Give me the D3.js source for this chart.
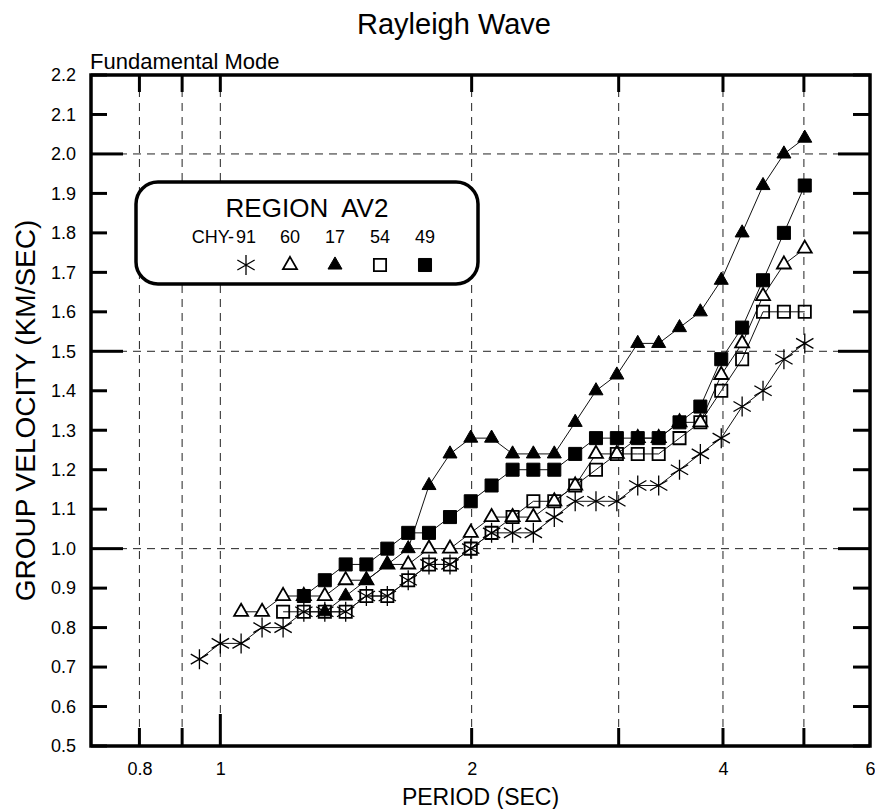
<!DOCTYPE html>
<html>
<head>
<meta charset="utf-8">
<script src="https://cdn.jsdelivr.net/npm/d3@7"></script>
<style>
  body { margin: 0; background: #fff; }
  text { font-family: Arial, "Liberation Sans", sans-serif; fill: #000; }
</style>
</head>
<body>
<svg id="chart"></svg>
<script>
// periods (sec), shared by all stations
const periods = [0.944, 1.0, 1.059, 1.122, 1.189, 1.259, 1.334, 1.413, 1.496, 1.585,
  1.679, 1.778, 1.884, 1.995, 2.113, 2.239, 2.371, 2.512, 2.661, 2.818,
  2.985, 3.162, 3.350, 3.548, 3.758, 3.981, 4.217, 4.467, 4.732, 5.012];

// group velocity (km/sec) per station, null = no point
const chy91 = [0.72, 0.76, 0.76, 0.80, 0.80, 0.84, 0.84, 0.84, 0.88, 0.88,
  0.92, 0.96, 0.96, 1.00, 1.04, 1.04, 1.04, 1.08, 1.12, 1.12,
  1.12, 1.16, 1.16, 1.20, 1.24, 1.28, 1.36, 1.40, 1.48, 1.52];
const chy60 = [null, null, 0.84, 0.84, 0.88, 0.88, 0.88, 0.92, 0.92, 0.96,
  0.96, 1.00, 1.00, 1.04, 1.08, 1.08, 1.08, 1.12, 1.16, 1.24,
  1.24, 1.28, 1.28, 1.32, 1.32, 1.44, 1.52, 1.64, 1.72, 1.76];
const chy17 = [null, null, null, null, null, null, 0.84, 0.88, 0.92, 0.96,
  1.00, 1.16, 1.24, 1.28, 1.28, 1.24, 1.24, 1.24, 1.32, 1.40,
  1.44, 1.52, 1.52, 1.56, 1.60, 1.68, 1.80, 1.92, 2.00, 2.04];
const chy54 = [null, null, null, null, 0.84, 0.84, 0.84, 0.84, 0.88, 0.88,
  0.92, 0.96, 0.96, 1.00, 1.04, 1.08, 1.12, 1.12, 1.16, 1.20,
  1.24, 1.24, 1.24, 1.28, 1.32, 1.40, 1.48, 1.60, 1.60, 1.60];
const chy49 = [null, null, null, null, null, 0.88, 0.92, 0.96, 0.96, 1.00,
  1.04, 1.04, 1.08, 1.12, 1.16, 1.20, 1.20, 1.20, 1.24, 1.28,
  1.28, 1.28, 1.28, 1.32, 1.36, 1.48, 1.56, 1.68, 1.80, 1.92];

const stations = ["91", "60", "17", "54", "49"];
const markers = ["asterisk", "triangleOpen", "triangle", "squareOpen", "square"];

const xTicks = [0.8, 0.9, 1, 2, 3, 4, 5];
const xLabels = [0.8, 1, 2, 4, 6];
const yTicks = d3.range(5, 23).map(d => d / 10);
const xGrid = [0.8, 0.9, 1, 2, 3, 4, 5];
const yGrid = [1.0, 1.5, 2.0];
const yMajor = [1.0, 1.5, 2.0];

const width = 875;
const height = 809;
const margin = { top: 75, right: 5, bottom: 63, left: 91 };

const svg = d3.select("#chart")
  .attr("width", width)
  .attr("height", height);

svg.append("rect").attr("width", width).attr("height", height).attr("fill", "#fff");

const x = d3.scaleLog().domain([0.7, 6]).range([margin.left, width - margin.right]);
const y = d3.scaleLinear().domain([0.5, 2.2]).range([height - margin.bottom, margin.top]);

const x0 = x.range()[0], x1 = x.range()[1];
const y0 = y.range()[0], y1 = y.range()[1];

// dashed grid
const grid = svg.append("g")
  .attr("stroke", "#222")
  .attr("stroke-width", 1)
  .attr("stroke-dasharray", "8,6");

grid.selectAll(".vx")
  .data(xGrid)
  .join("line")
  .attr("x1", d => x(d)).attr("x2", d => x(d))
  .attr("y1", y1).attr("y2", y0);

grid.selectAll(".hy")
  .data(yGrid)
  .join("line")
  .attr("x1", x0).attr("x2", x1)
  .attr("y1", d => y(d)).attr("y2", d => y(d));

// tick labels from d3 axes (tick lines drawn separately below)
const gBottom = svg.append("g")
  .attr("transform", `translate(0,${y0})`)
  .call(d3.axisBottom(x).tickValues(xLabels).tickFormat(d => String(d))
    .tickSize(0).tickPadding(16));

const gLeft = svg.append("g")
  .attr("transform", `translate(${x0},0)`)
  .call(d3.axisLeft(y).tickValues(yTicks).tickFormat(d3.format(".1f"))
    .tickSize(0).tickPadding(15));

[gBottom, gLeft].forEach(g => {
  g.select(".domain").remove();
  g.selectAll(".tick line").remove();
  g.selectAll(".tick text")
    .attr("font-size", 18)
    .attr("font-family", "Arial, 'Liberation Sans', sans-serif")
    .attr("fill", "#000");
});

// inward tick marks on all four sides
const ticks = svg.append("g").attr("stroke", "#000").attr("stroke-width", 3);

ticks.selectAll(".tb")
  .data(xTicks)
  .join("line")
  .attr("x1", d => x(d)).attr("x2", d => x(d))
  .attr("y1", y0).attr("y2", d => y0 - (d === 1 ? 32 : 18));

ticks.selectAll(".tt")
  .data(xTicks)
  .join("line")
  .attr("x1", d => x(d)).attr("x2", d => x(d))
  .attr("y1", y1).attr("y2", y1 + 17);

ticks.selectAll(".tl")
  .data(yTicks)
  .join("line")
  .attr("x1", x0).attr("x2", d => x0 + (yMajor.includes(d) ? 32 : 16))
  .attr("y1", d => y(d)).attr("y2", d => y(d));

ticks.selectAll(".tr")
  .data(yTicks)
  .join("line")
  .attr("x1", x1).attr("x2", d => x1 - (yMajor.includes(d) ? 32 : 17))
  .attr("y1", d => y(d)).attr("y2", d => y(d));

svg.append("rect")
  .attr("x", x0).attr("y", y1)
  .attr("width", x1 - x0).attr("height", y0 - y1)
  .attr("fill", "none")
  .attr("stroke", "#000")
  .attr("stroke-width", 3.5);

// marker shapes
const asteriskType = {
  draw(ctx, size) {
    const r = Math.sqrt(size) / 2;
    const a = Math.PI / 6;
    ctx.moveTo(0, -r); ctx.lineTo(0, r);
    ctx.moveTo(-r * Math.cos(a), -r * Math.sin(a)); ctx.lineTo(r * Math.cos(a), r * Math.sin(a));
    ctx.moveTo(-r * Math.cos(a), r * Math.sin(a)); ctx.lineTo(r * Math.cos(a), -r * Math.sin(a));
  }
};

const markerStyle = {
  asterisk: { type: asteriskType, size: 400, fill: "none", stroke: "#000", sw: 1.3 },
  triangleOpen: { type: d3.symbolTriangle, size: 85, fill: "#fff", stroke: "#000", sw: 1.8 },
  triangle: { type: d3.symbolTriangle, size: 85, fill: "#000", stroke: "#000", sw: 1 },
  squareOpen: { type: d3.symbolSquare, size: 150, fill: "none", stroke: "#000", sw: 1.8 },
  square: { type: d3.symbolSquare, size: 170, fill: "#000", stroke: "#000", sw: 1 }
};

const series = [chy91, chy60, chy17, chy54, chy49].map((vals, i) => ({
  name: stations[i],
  marker: markers[i],
  points: periods.map((p, j) => ({ p, v: vals[j] })).filter(d => d.v != null)
}));

const line = d3.line().x(d => x(d.p)).y(d => y(d.v));

svg.append("g")
  .selectAll("path")
  .data(series)
  .join("path")
  .attr("d", d => line(d.points))
  .attr("fill", "none")
  .attr("stroke", "#111")
  .attr("stroke-width", 1);

const sym = d3.symbol();

svg.append("g")
  .selectAll("g")
  .data(series)
  .join("g")
  .each(function (s) {
    const st = markerStyle[s.marker];
    d3.select(this).selectAll("path")
      .data(s.points)
      .join("path")
      .attr("transform", d => `translate(${x(d.p)},${y(d.v)})`)
      .attr("d", sym.type(st.type).size(st.size)())
      .attr("fill", st.fill)
      .attr("stroke", st.stroke)
      .attr("stroke-width", st.sw);
  });

// legend
const legend = svg.append("g");
legend.append("rect")
  .attr("x", 136).attr("y", 182)
  .attr("width", 342).attr("height", 102)
  .attr("rx", 22)
  .attr("fill", "#fff")
  .attr("stroke", "#000")
  .attr("stroke-width", 3.5);

legend.append("text")
  .attr("x", 307).attr("y", 217)
  .attr("text-anchor", "middle")
  .attr("font-size", 26)
  .attr("xml:space", "preserve")
  .text("REGION  AV2");

const legX = [246, 290, 335, 380, 425];
legend.append("text")
  .attr("x", legX[0] - 12).attr("y", 243)
  .attr("text-anchor", "end")
  .attr("font-size", 18)
  .text("CHY-");
legend.selectAll(".lab")
  .data(stations)
  .join("text")
  .attr("x", (d, i) => legX[i]).attr("y", 243)
  .attr("text-anchor", "middle")
  .attr("font-size", 18)
  .text(d => d);
legend.selectAll(".mk")
  .data(markers)
  .join("path")
  .attr("transform", (d, i) => `translate(${legX[i]},${265})`)
  .attr("d", d => sym.type(markerStyle[d].type).size(markerStyle[d].size)())
  .attr("fill", d => markerStyle[d].fill)
  .attr("stroke", d => markerStyle[d].stroke)
  .attr("stroke-width", d => markerStyle[d].sw);

// titles
svg.append("text")
  .attr("x", 454).attr("y", 34)
  .attr("text-anchor", "middle")
  .attr("font-size", 29)
  .text("Rayleigh Wave");

svg.append("text")
  .attr("x", 90).attr("y", 69)
  .attr("font-size", 22)
  .text("Fundamental Mode");

svg.append("text")
  .attr("x", (x0 + x1) / 2).attr("y", 805)
  .attr("text-anchor", "middle")
  .attr("font-size", 23)
  .text("PERIOD (SEC)");

svg.append("text")
  .attr("transform", `translate(35,${(y0 + y1) / 2}) rotate(-90)`)
  .attr("text-anchor", "middle")
  .attr("font-size", 28)
  .text("GROUP VELOCITY (KM/SEC)");
</script>
</body>
</html>
